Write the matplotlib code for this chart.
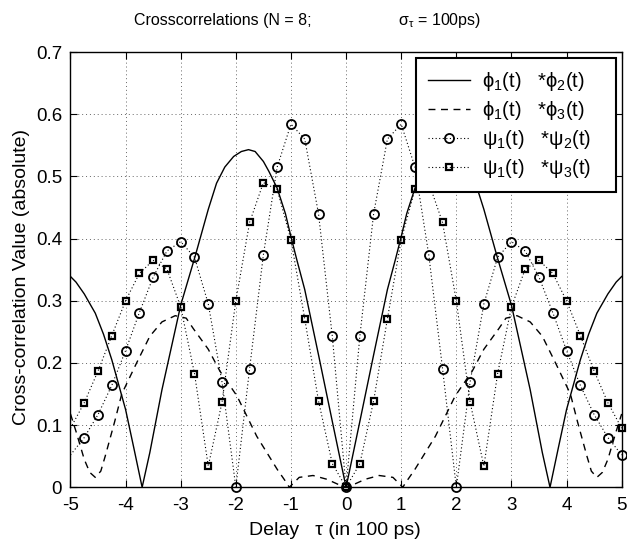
import matplotlib
matplotlib.use('Agg')
import matplotlib.pyplot as plt
from matplotlib.lines import Line2D

plt.rcParams['font.family'] = ['Liberation Sans', 'DejaVu Sans']
plt.rcParams['mathtext.fontset'] = 'custom'
plt.rcParams['mathtext.rm'] = 'Liberation Sans'
plt.rcParams['mathtext.it'] = 'Liberation Sans:italic'
plt.rcParams['axes.unicode_minus'] = False

# sample delays (in 100 ps) for the psi curves
tau = [-5.0, -4.75, -4.5, -4.25, -4.0, -3.75, -3.5, -3.25, -3.0, -2.75,
       -2.5, -2.25, -2.0, -1.75, -1.5, -1.25, -1.0, -0.75, -0.5, -0.25,
       0.0, 0.25, 0.5, 0.75, 1.0, 1.25, 1.5, 1.75, 2.0, 2.25,
       2.5, 2.75, 3.0, 3.25, 3.5, 3.75, 4.0, 4.25, 4.5, 4.75, 5.0]

psi12 = [0.052, 0.080, 0.117, 0.164, 0.220, 0.281, 0.338, 0.380, 0.395, 0.370,
         0.295, 0.169, 0.000, 0.191, 0.374, 0.515, 0.584, 0.560, 0.440, 0.243,
         0.000, 0.243, 0.440, 0.560, 0.584, 0.515, 0.374, 0.191, 0.000, 0.169,
         0.295, 0.370, 0.395, 0.380, 0.338, 0.281, 0.220, 0.164, 0.117, 0.080, 0.052]

psi13 = [0.095, 0.136, 0.187, 0.244, 0.300, 0.344, 0.365, 0.351, 0.290, 0.183,
         0.034, 0.137, 0.300, 0.426, 0.490, 0.479, 0.398, 0.271, 0.139, 0.038,
         0.000, 0.038, 0.139, 0.271, 0.398, 0.479, 0.490, 0.426, 0.300, 0.137,
         0.034, 0.183, 0.290, 0.351, 0.365, 0.344, 0.300, 0.244, 0.187, 0.136, 0.095]

# phi1 * phi2 (solid)
phi12_t = [-5.0, -4.9, -4.75, -4.55, -4.4, -4.25, -4.0, -3.85, -3.7, -3.56,
           -3.34, -3.0, -2.74, -2.5, -2.35, -2.2, -2.04, -1.9, -1.77, -1.65,
           -1.5, -1.4, -1.25, -1.1, -1.0, -0.9, -0.75, -0.5, -0.25, 0.0,
           0.25, 0.5, 0.75, 0.9, 1.0, 1.1, 1.25, 1.4, 1.5, 1.65,
           1.77, 1.9, 2.04, 2.2, 2.35, 2.5, 2.74, 3.0, 3.34, 3.56,
           3.7, 3.85, 4.0, 4.25, 4.4, 4.55, 4.75, 4.9, 5.0]
phi12_v = [0.339, 0.330, 0.311, 0.280, 0.246, 0.205, 0.125, 0.063, 0.0, 0.056,
           0.157, 0.293, 0.371, 0.447, 0.489, 0.515, 0.532, 0.540, 0.543, 0.540,
           0.524, 0.508, 0.481, 0.440, 0.403, 0.368, 0.318, 0.213, 0.106, 0.0,
           0.106, 0.213, 0.318, 0.368, 0.403, 0.440, 0.481, 0.508, 0.524, 0.540,
           0.543, 0.540, 0.532, 0.515, 0.489, 0.447, 0.371, 0.293, 0.157, 0.056,
           0.0, 0.063, 0.125, 0.205, 0.246, 0.280, 0.311, 0.330, 0.339]

# phi1 * phi3 (dashed)
phi13_t = [-5.0, -4.9, -4.75, -4.65, -4.55, -4.45, -4.37, -4.2, -4.07, -3.8,
           -3.56, -3.34, -3.1, -2.9, -2.77, -2.5, -2.29, -1.98, -1.62, -1.25,
           -1.07, -1.03, -0.85, -0.6, -0.35, -0.15, 0.0,
           0.15, 0.35, 0.6, 0.85, 1.03, 1.07, 1.25, 1.62, 1.98, 2.29,
           2.5, 2.77, 2.9, 3.1, 3.34, 3.56, 3.8, 4.07, 4.2, 4.37,
           4.45, 4.55, 4.65, 4.75, 4.9, 5.0]
phi13_v = [0.118, 0.090, 0.045, 0.024, 0.016, 0.026, 0.050, 0.105, 0.150, 0.200,
           0.243, 0.266, 0.276, 0.272, 0.255, 0.222, 0.187, 0.147, 0.082, 0.029,
           0.006, 0.0, 0.016, 0.019, 0.013, 0.005, 0.0,
           0.005, 0.013, 0.019, 0.016, 0.0, 0.006, 0.029, 0.082, 0.147, 0.187,
           0.222, 0.255, 0.272, 0.276, 0.266, 0.243, 0.200, 0.150, 0.105, 0.050,
           0.026, 0.016, 0.024, 0.045, 0.090, 0.118]

xticks = [-5, -4, -3, -2, -1, 0, 1, 2, 3, 4, 5]
yticks = [0, 0.1, 0.2, 0.3, 0.4, 0.5, 0.6, 0.7]
ytick_labels = ['0', '0.1', '0.2', '0.3', '0.4', '0.5', '0.6', '0.7']

labels = ['ϕ$_1$(t)   *ϕ$_2$(t)   ', 'ϕ$_1$(t)   *ϕ$_3$(t)   ',
          'ψ$_1$(t)   *ψ$_2$(t)   ', 'ψ$_1$(t)   *ψ$_3$(t)   ']

fig = plt.figure(figsize=(6.27, 5.44), dpi=100)
ax = fig.add_axes([0.1124, 0.1042, 0.8791, 0.8002])

ax.plot(phi12_t, phi12_v, color='k', lw=1.0)
ax.plot(phi13_t, phi13_v, color='k', lw=1.0, dashes=(5, 4))
ax.plot(tau, psi12, color='k', lw=0.8, dashes=(1, 2.2))
ax.plot(tau, psi13, color='k', lw=0.8, dashes=(1, 2.2))
# markers are not shown at the first sample
ax.plot(tau[1:], psi12[1:], ls='none', marker='o', ms=6.5, mfc='none',
        mec='k', mew=1.3, clip_on=False)
ax.plot(tau[1:], psi13[1:], ls='none', marker='s', ms=4.6, mfc='none',
        mec='k', mew=1.6, clip_on=False)

ax.set_xlim(-5, 5)
ax.set_ylim(0, 0.7)
ax.set_xticks(xticks)
ax.set_yticks(yticks)
ax.set_yticklabels(ytick_labels)
ax.tick_params(direction='in', top=True, right=True, length=5, width=0.8,
               labelsize=13.5)
ax.tick_params(axis='x', pad=7)
ax.tick_params(axis='y', pad=6)
ax.grid(True, color='0.4', lw=0.7, dashes=(1, 3))
for s in ax.spines.values():
    s.set_linewidth(1.0)

handles = [
    Line2D([], [], color='k', lw=1.0),
    Line2D([], [], color='k', lw=1.0, dashes=(5, 4)),
    Line2D([], [], color='k', lw=0.8, dashes=(1, 2.2), marker='o', ms=6.5,
           mfc='none', mew=1.3),
    Line2D([], [], color='k', lw=0.8, dashes=(1, 2.2), marker='s', ms=4.6,
           mfc='none', mew=1.6),
]
leg = ax.legend(handles, labels, loc='upper right',
                bbox_to_anchor=(0.9897, 0.986), borderaxespad=0,
                fontsize=14.5, handlelength=2.1, handletextpad=0.6,
                borderpad=0.6, labelspacing=0.29,
                fancybox=False, framealpha=1, edgecolor='k')
leg.get_frame().set_linewidth(1.5)

ax.set_xlabel('Delay   τ (in 100 ps)', fontsize=14)
ax.set_ylabel('Cross-correlation Value (absolute)', fontsize=14)
ax.xaxis.set_label_coords((335 - 70.5) / 551.2, -0.08)
ax.yaxis.set_label_coords(-0.074, (487.3 - 277) / 435.3)
fig.text(134 / 627, 1 - 20 / 544, 'Crosscorrelations (N = 8;',
         ha='left', va='center', fontsize=11.5)
fig.text(398 / 627, 1 - 20 / 544, 'σ$_{\\mathrm{\\tau}}$ = 100ps)',
         ha='left', va='center', fontsize=11.5)

fig.savefig('out.png', dpi=100)
